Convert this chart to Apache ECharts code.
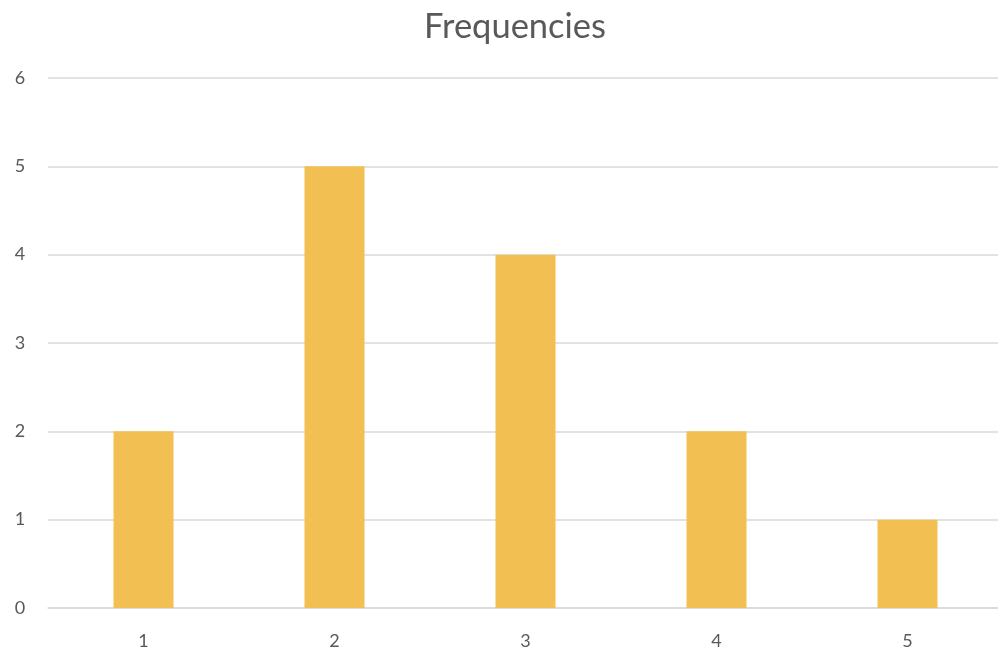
<!DOCTYPE html>
<html>
<head>
<meta charset="utf-8">
<script src="https://cdn.jsdelivr.net/npm/echarts@6/dist/echarts.min.js"></script>
<style>
  html, body { margin: 0; padding: 0; background: #fff; }
  #chart { width: 998px; height: 651px; }
</style>
</head>
<body>
<div id="chart"></div>
<script>
// Frequency histogram data
const categories = ['1', '2', '3', '4', '5'];
const frequencies = [2, 5, 4, 2, 1];

const chart = echarts.init(document.getElementById('chart'), null, { renderer: 'canvas' });
const textColor = '#595959';
const fontFamily = 'Lato, "Open Sans", sans-serif';

chart.setOption({
  animation: false,
  title: {
    text: 'Frequencies',
    left: 419,
    top: 4,
    textStyle: { color: textColor, fontSize: 34.5, fontWeight: 'normal', fontFamily }
  },
  grid: { left: 48, top: 78, width: 955, height: 530, containLabel: false, outerBoundsMode: 'none' },
  xAxis: {
    type: 'category',
    data: categories,
    axisLine: { show: true, lineStyle: { color: '#d9d9d9', width: 1.5 } },
    axisTick: { show: false },
    axisLabel: { color: textColor, fontSize: 18, fontFamily, margin: 24 }
  },
  yAxis: {
    type: 'value',
    min: 0,
    max: 6,
    interval: 1,
    axisLine: { show: false },
    axisTick: { show: false },
    axisLabel: { color: textColor, fontSize: 18, fontFamily, margin: 28, align: 'center' },
    splitLine: { lineStyle: { color: '#d9d9d9', width: 1.5 } }
  },
  series: [{
    type: 'bar',
    data: frequencies,
    barWidth: 60,
    itemStyle: { color: '#F2C052' }
  }]
});
</script>
</body>
</html>
